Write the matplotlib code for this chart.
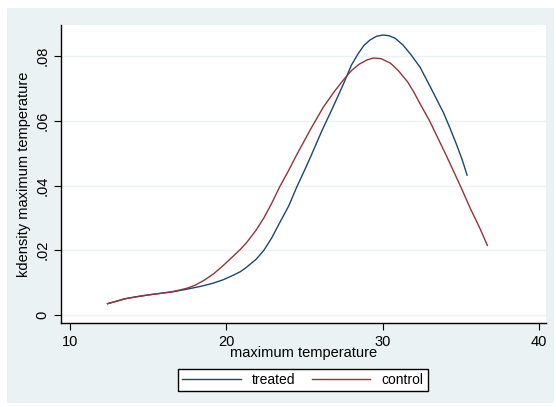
import matplotlib
matplotlib.use("Agg")
import matplotlib.pyplot as plt
from matplotlib.patches import Rectangle

plt.rcParams["font.family"] = ["Liberation Sans", "DejaVu Sans"]

# kernel density estimates
treated_x = [12.4, 13.0, 13.5, 14.2, 15.0, 15.8, 16.5, 17.5, 18.4, 19.2, 19.8, 20.4,
             20.9, 21.3, 21.9, 22.4, 22.9, 23.4, 24.0, 24.5, 25.0, 25.4, 26.1, 26.8,
             27.5, 28.0, 28.4, 28.8, 29.2, 29.6, 30.0, 30.4, 30.8, 31.3, 31.8, 32.4,
             33.1, 33.9, 34.3, 34.7, 35.1, 35.4]
treated_y = [.0035, .0043, .0050, .0056, .0062, .0067, .0071, .0080, .0089, .0099,
             .0109, .0122, .0134, .0148, .0172, .0200, .0238, .0284, .0338, .0395,
             .0447, .0490, .0568, .0640, .0715, .0772, .0805, .0833, .0850, .0861,
             .0865, .0863, .0855, .0834, .0805, .0765, .0700, .0624, .0578, .0530,
             .0478, .0432]
control_x = [12.4, 13.0, 13.5, 14.2, 15.0, 15.8, 16.5, 17.0, 17.5, 18.0, 18.6, 19.2,
             19.8, 20.4, 20.9, 21.3, 21.9, 22.4, 22.9, 23.4, 24.0, 24.5, 25.4, 26.2,
             26.9, 27.5, 28.0, 28.5, 29.0, 29.4, 29.9, 30.5, 31.0, 31.6, 32.0, 32.4,
             33.0, 33.5, 34.0, 34.5, 35.1, 35.6, 36.2, 36.7]
control_y = [.0035, .0043, .0050, .0056, .0062, .0067, .0072, .0077, .0083, .0092,
             .0108, .0128, .0153, .0180, .0203, .0224, .0262, .0300, .0345, .0395,
             .0448, .0495, .0575, .0642, .0690, .0727, .0755, .0775, .0788, .0794,
             .0792, .0778, .0755, .0720, .0688, .0652, .0600, .0550, .0500, .0448,
             .0385, .0330, .0270, .0215]

x_ticks = [10, 20, 30, 40]
y_ticks = [0, .02, .04, .06, .08]
y_ticklabels = ["0", ".02", ".04", ".06", ".08"]

W, H = 556, 407
bg = "#eaf2f3"
navy = "#1a476f"
maroon = "#90353b"

fig = plt.figure(figsize=(W / 100, H / 100), dpi=100, facecolor="white")
# stata-like graph region behind everything
fig.patches.append(Rectangle((7 / W, 1 - 403 / H), 547 / W, 395 / H,
                             transform=fig.transFigure, facecolor=bg,
                             edgecolor="none", zorder=-10))

ax = fig.add_axes([61 / W, 1 - 323 / H, 485 / W, 298 / H])
ax.set_facecolor("white")
ax.plot(treated_x, treated_y, color=navy, lw=1.0, label="treated")
ax.plot(control_x, control_y, color=maroon, lw=1.0, label="control")

ax.set_xlim(9.42, 40.45)
ax.set_ylim(-0.00247, 0.0896)
ax.set_xticks(x_ticks)
ax.set_yticks(y_ticks)
ax.set_yticklabels(y_ticklabels, rotation=90, va="center")
ax.tick_params(direction="out", length=5, width=0.8, labelsize=10.5, color="black")
ax.grid(axis="y", color=bg, lw=1.0)
ax.set_axisbelow(True)
for s in ["top", "right"]:
    ax.spines[s].set_visible(False)
for s in ["left", "bottom"]:
    ax.spines[s].set_color("black")
    ax.spines[s].set_linewidth(1.0)

ax.set_xlabel("maximum temperature", fontsize=10.5, labelpad=-2)
ax.set_ylabel("kdensity maximum temperature", fontsize=10.5, labelpad=3)

leg = fig.legend(loc="center", bbox_to_anchor=(303 / W, 1 - 380 / H), ncol=2,
                 fontsize=10, frameon=True, fancybox=False, handlelength=4.2,
                 columnspacing=1.2, borderpad=0.3, handletextpad=0.8)
leg.get_frame().set_edgecolor("black")
leg.get_frame().set_facecolor("white")
leg.get_frame().set_alpha(1.0)
leg.get_frame().set_linewidth(1.0)

fig.savefig("out.png", dpi=100, facecolor="white")
